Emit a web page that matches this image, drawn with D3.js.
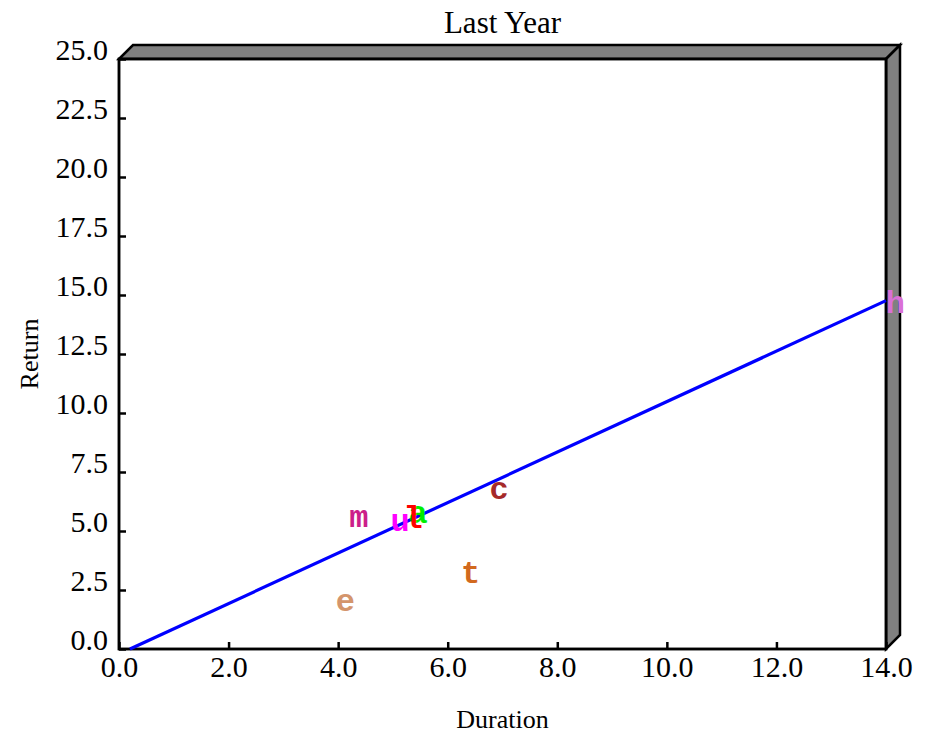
<!DOCTYPE html>
<html>
<head>
<meta charset="utf-8">
<script src="https://cdn.jsdelivr.net/npm/d3@7"></script>
<style>
  html, body { margin: 0; padding: 0; background: #ffffff; }
  svg { display: block; }
</style>
</head>
<body>
<svg id="chart" width="933" height="734"></svg>
<script>
// ---- data ----
const labels    = ["m", "u", "a", "l", "c", "t", "e", "h"];
const durations = [4.38, 5.13, 5.46, 5.37, 6.94, 6.42, 4.13, 14.17];
const returns   = [5.54, 5.38, 5.70, 5.50, 6.72, 3.17, 1.99, 14.58];
const colors    = ["#cc1f8a", "#ff00ff", "#00ee00", "#ff0000", "#a52a2a", "#d2691e", "#d4956c", "#da70d6"];
const fitX      = [0.2, 14.0];
const fitY      = [0.0, 14.76];
const xTicks    = [0, 2, 4, 6, 8, 10, 12, 14];
const yTicks    = [0, 2.5, 5, 7.5, 10, 12.5, 15, 17.5, 20, 22.5, 25];
const title     = "Last Year";
const xTitle    = "Duration";
const yTitle    = "Return";

// ---- layout ----
const svg = d3.select("#chart");
const L = 119, T = 59, R = 886, B = 649;
const depth = 14;
const x = d3.scaleLinear().domain([0, 14]).range([L, R]);
const y = d3.scaleLinear().domain([0, 25]).range([B, T]);
const serif = "'Liberation Serif','Times New Roman',Times,serif";

// 3D frame faces
const topFace = [[L, T], [L + depth, T - depth], [R + depth, T - depth], [R, T]];
const rightFace = [[R, T], [R + depth, T - depth], [R + depth, B - depth], [R, B]];
svg.append("polygon").attr("points", topFace.map(p => p.join(",")).join(" "))
  .attr("fill", "#808080").attr("stroke", "#000").attr("stroke-width", 2.5).attr("stroke-linejoin", "miter");
svg.append("polygon").attr("points", rightFace.map(p => p.join(",")).join(" "))
  .attr("fill", "#808080").attr("stroke", "#000").attr("stroke-width", 2.5).attr("stroke-linejoin", "miter");

// plot frame
svg.append("rect").attr("x", L).attr("y", T).attr("width", R - L).attr("height", B - T)
  .attr("fill", "#ffffff").attr("stroke", "#000").attr("stroke-width", 2.5);

// axes
const xAxis = d3.axisBottom(x).tickValues(xTicks).tickFormat(d3.format(".1f"))
  .tickSizeInner(-7).tickSizeOuter(0).tickPadding(7);
const gx = svg.append("g").attr("transform", `translate(0,${B})`).call(xAxis);
gx.select(".domain").remove();
gx.selectAll("line").attr("stroke", "#000").attr("stroke-width", 2.5);
gx.selectAll("text").attr("font-family", serif).attr("font-size", 30).attr("fill", "#000");

const yAxis = d3.axisLeft(y).tickValues(yTicks).tickFormat(d3.format(".1f"))
  .tickSizeInner(-7).tickSizeOuter(0).tickPadding(11);
const gy = svg.append("g").attr("transform", `translate(${L},0)`).call(yAxis);
gy.select(".domain").remove();
gy.selectAll("line").attr("stroke", "#000").attr("stroke-width", 2.5);
gy.selectAll("text").attr("font-family", serif).attr("font-size", 30).attr("fill", "#000")
  .attr("dy", "0.03em");

// redraw frame edges on top of ticks
svg.append("rect").attr("x", L).attr("y", T).attr("width", R - L).attr("height", B - T)
  .attr("fill", "none").attr("stroke", "#000").attr("stroke-width", 2.5);

// fit line
const line = d3.line().x(d => x(d[0])).y(d => y(d[1]));
svg.append("path").datum(fitX.map((v, i) => [v, fitY[i]]))
  .attr("d", line).attr("fill", "none").attr("stroke", "#0000ff").attr("stroke-width", 3.2);

// letter markers
svg.append("g").selectAll("text").data(labels).join("text")
  .attr("x", (d, i) => x(durations[i]))
  .attr("y", (d, i) => y(returns[i]))
  .attr("text-anchor", "middle")
  .attr("dominant-baseline", "central")
  .attr("font-family", "'Liberation Mono','Courier New',Courier,monospace")
  .attr("font-weight", "bold")
  .attr("font-size", 32)
  .attr("fill", (d, i) => colors[i])
  .text(d => d);

// titles
svg.append("text").attr("x", (L + R) / 2).attr("y", 33).attr("text-anchor", "middle")
  .attr("font-family", serif).attr("font-size", 31).attr("fill", "#000").text(title);
svg.append("text").attr("x", (L + R) / 2).attr("y", 728).attr("text-anchor", "middle")
  .attr("font-family", serif).attr("font-size", 26).attr("fill", "#000").text(xTitle);
svg.append("text").attr("transform", `translate(38,${(T + B) / 2}) rotate(-90)`)
  .attr("text-anchor", "middle")
  .attr("font-family", serif).attr("font-size", 26).attr("fill", "#000").text(yTitle);
</script>
</body>
</html>
